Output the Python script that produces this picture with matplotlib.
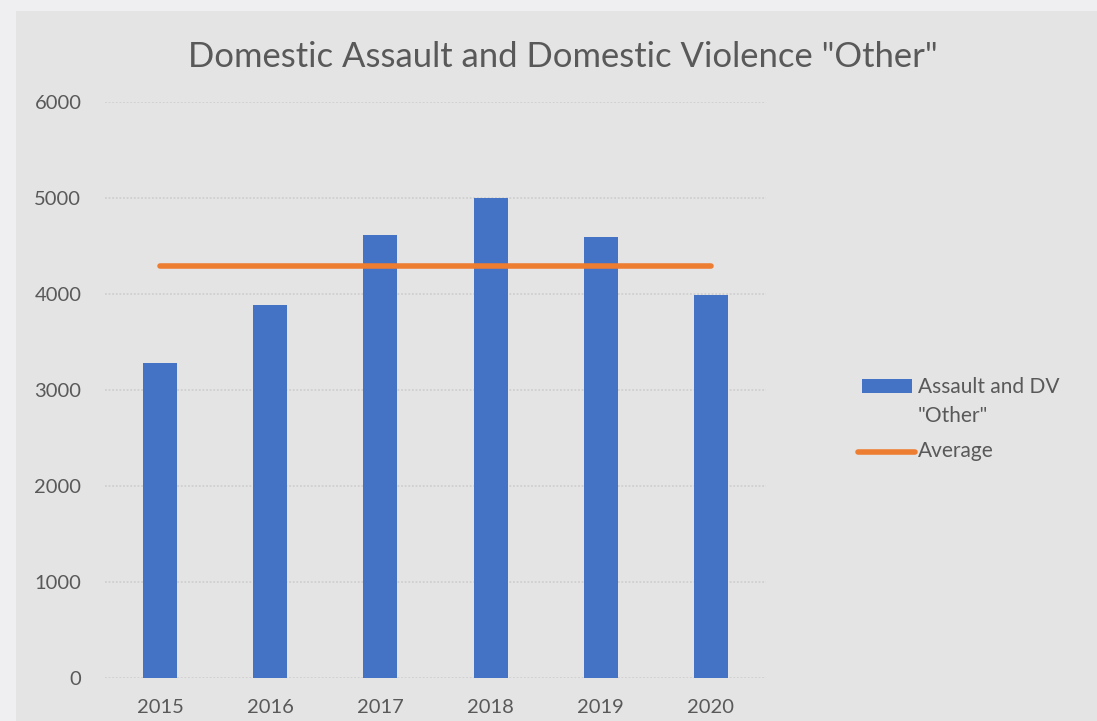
import matplotlib
matplotlib.use("Agg")
import matplotlib.pyplot as plt
from matplotlib.patches import Rectangle
from matplotlib.lines import Line2D

years = ["2015", "2016", "2017", "2018", "2019", "2020"]
counts = [3280, 3885, 4615, 5000, 4595, 3990]
average = [4290, 4290, 4290, 4290, 4290, 4290]
yticks = [0, 1000, 2000, 3000, 4000, 5000, 6000]
legend_labels = ["Assault and DV", '"Other"', "Average"]

plt.rcParams["font.family"] = ["Lato", "DejaVu Sans"]
W, H = 1097, 721
fig = plt.figure(figsize=(W / 100, H / 100), dpi=100, facecolor="#efeef0")

def fx(px):
    return px / W

def fy(py):
    return 1 - py / H

BLUE = "#4472c4"
ORANGE = "#ed7d31"
GREY = "#595959"

# chart panel
fig.patches.append(Rectangle((fx(16), 0), 1 - fx(16), fy(11),
                             transform=fig.transFigure, facecolor="#e4e4e4",
                             edgecolor="none", zorder=-5))

ax = fig.add_axes([fx(105), fy(678), (766 - 105) / W, (678 - 102) / H])
ax.set_facecolor("none")
ax.set_zorder(2)
x = list(range(len(years)))
ax.bar(x, counts, width=0.31, color=BLUE, zorder=3)
ax.plot(x, average, color=ORANGE, linewidth=4, solid_capstyle="round", zorder=4)

ax.set_xlim(-0.5, 5.5)
ax.set_ylim(0, 6000)
ax.set_yticks(yticks)
ax.set_yticklabels([str(v) for v in yticks])
ax.set_xticks(x)
ax.set_xticklabels(years)
for s in ax.spines.values():
    s.set_visible(False)
ax.grid(axis="y", color="#cfcfcf", linewidth=1.3, linestyle=(0, (1, 1)), zorder=1)
ax.tick_params(length=0, labelsize=14.5, colors=GREY)
ax.tick_params(axis="y", pad=17)
ax.tick_params(axis="x", pad=15)

fig.text(fx(563), fy(57), 'Domestic Assault and Domestic Violence "Other"',
         ha="center", va="center", fontsize=24.9, color=GREY)

# legend
fig.patches.append(Rectangle((fx(862), fy(393)), (912 - 862) / W, 14 / H,
                             transform=fig.transFigure, facecolor=BLUE,
                             edgecolor="none", zorder=3))
fig.lines.append(Line2D([fx(858), fx(915)], [fy(452), fy(452)],
                        transform=fig.transFigure, color=ORANGE, linewidth=4,
                        solid_capstyle="round", zorder=3))
for lab, by in zip(legend_labels, [393, 421.7, 456.7]):
    fig.text(fx(918), fy(by), lab, ha="left", va="baseline", fontsize=15, color=GREY)

fig.savefig("out.png", dpi=100, facecolor=fig.get_facecolor())
